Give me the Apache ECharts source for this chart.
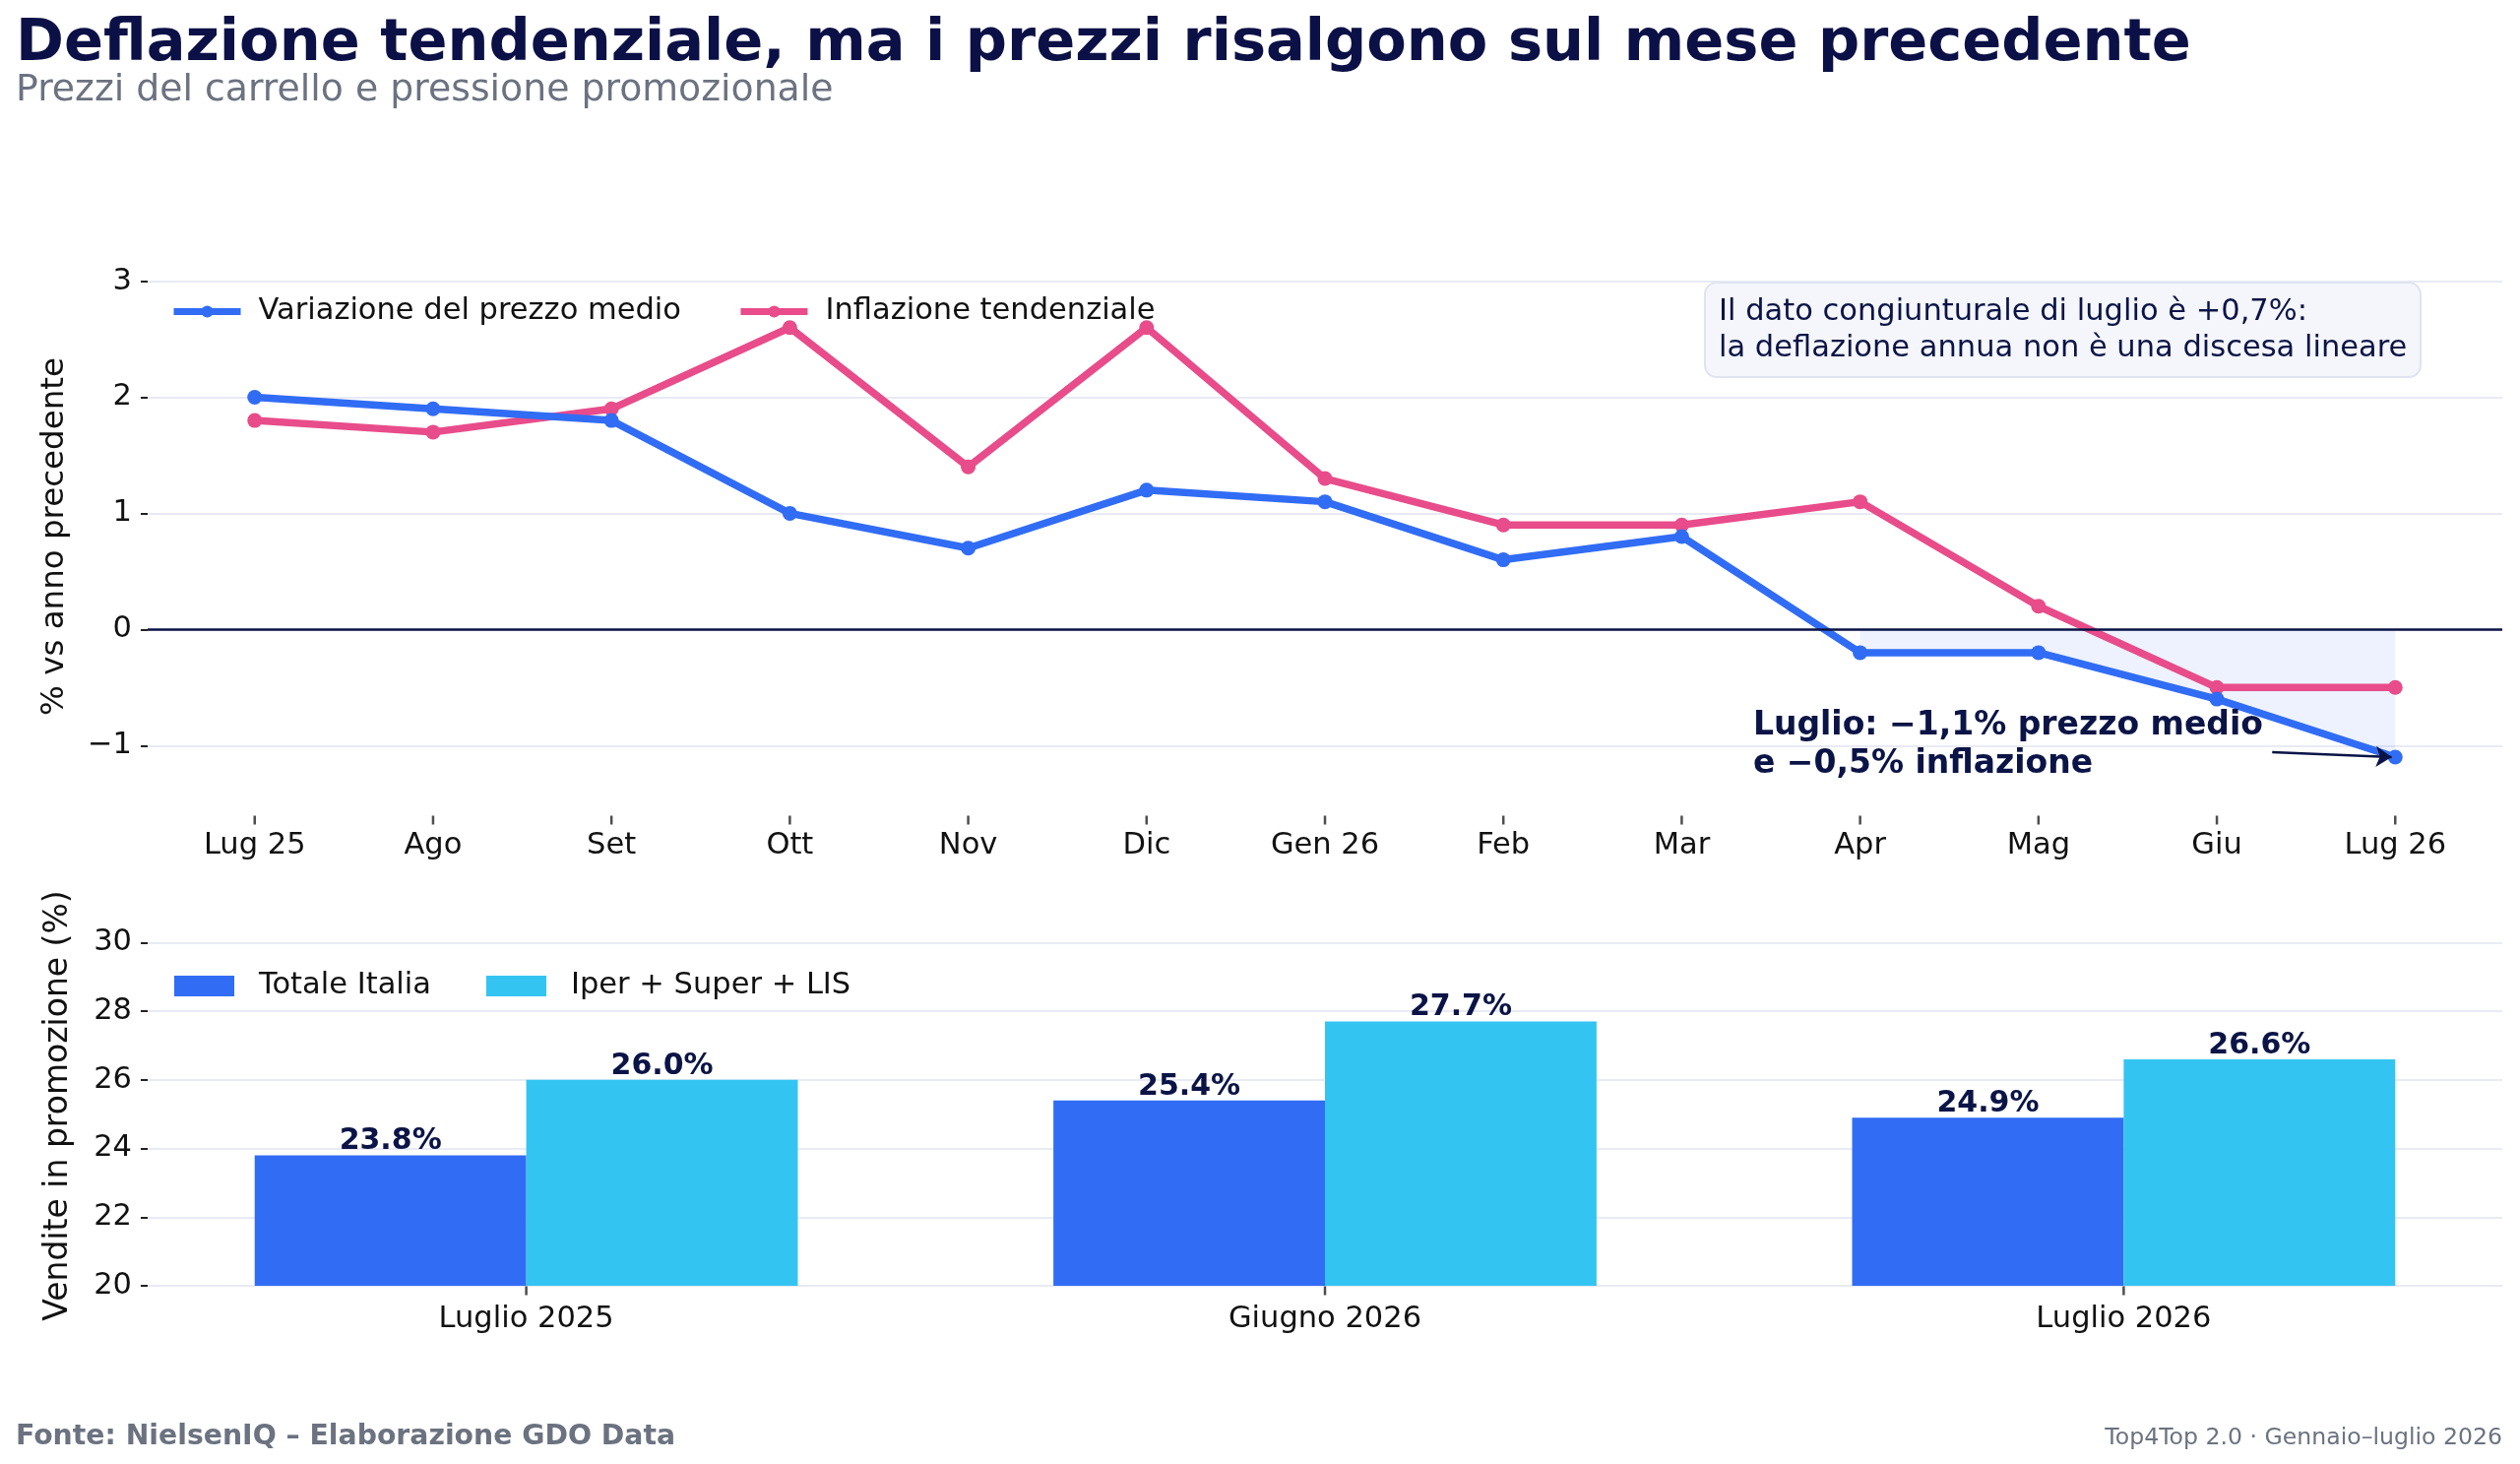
<!DOCTYPE html>
<html>
<head>
<meta charset="utf-8">
<script src="https://cdn.jsdelivr.net/npm/echarts@6/dist/echarts.min.js"></script>
<style>
  html, body { margin: 0; padding: 0; background: #fff; }
  #chart { width: 2560px; height: 1487px; }
</style>
</head>
<body>
<div id="chart"></div>
<script>
// dati del grafico
const mesi = ['Lug 25', 'Ago', 'Set', 'Ott', 'Nov', 'Dic', 'Gen 26', 'Feb', 'Mar', 'Apr', 'Mag', 'Giu', 'Lug 26'];
const prezzoMedio = [2.0, 1.9, 1.8, 1.0, 0.7, 1.2, 1.1, 0.6, 0.8, -0.2, -0.2, -0.6, -1.1];
const inflazione = [1.8, 1.7, 1.9, 2.6, 1.4, 2.6, 1.3, 0.9, 0.9, 1.1, 0.2, -0.5, -0.5];
const tickPrezzi = [-1, 0, 1, 2, 3];
const inizioOmbra = 9; // da Apr in poi

const periodi = ['Luglio 2025', 'Giugno 2026', 'Luglio 2026'];
const totaleItalia = [23.8, 25.4, 24.9];
const iperSuperLis = [26.0, 27.7, 26.6];
const tickPromo = [20, 22, 24, 26, 28, 30];

const NAVY = '#0b1446';
const BLU = '#316cf4';
const ROSA = '#e84c8a';
const CIANO = '#34c4f2';
const GRIGIO = '#6b7280';
const GRID = '#e8ebf4';
const FONT = 'DejaVu Sans';

// limiti degli assi
const yMinPrezzi = -1.6, yMaxPrezzi = 3.2;
const yMinPromo = 20, yMaxPromo = 30.5;

const chart = echarts.init(document.getElementById('chart'));

const idxMesi = mesi.map((m, i) => i);
const idxPeriodi = periodi.map((p, i) => i);

// larghezza barre: 0.34 unità sull'asse x in basso
const grigliaBassoW = 2560 - 150 - 18;
const larghezzaBarra = grigliaBassoW / (2.474 + 0.474) * 0.34;

const etichettaTick = { fontSize: 30.5, color: '#111', fontFamily: FONT };
const stileTick = { color: '#222', width: 2 };

// i tick dell'asse x non vengono disegnati senza linea d'asse: li faccio con uno scatter
function tickX(nome, xi, yi, valori, yBase) {
    return {
        name: nome,
        type: 'scatter',
        xAxisIndex: xi, yAxisIndex: yi,
        data: valori.map(v => [v, yBase]),
        symbol: 'rect', symbolSize: [2.5, 9], symbolOffset: [0, 5],
        itemStyle: { color: '#222' },
        clip: false, silent: true, z: 5
    };
}

chart.setOption({
    animation: false,
    textStyle: { fontFamily: FONT },
    title: [
        {
            text: 'Deflazione tendenziale, ma i prezzi risalgono sul mese precedente',
            left: 16, top: 16, padding: 0,
            textStyle: { fontSize: 59, fontWeight: 'bold', color: '#0b1146', fontFamily: FONT }
        },
        {
            text: 'Prezzi del carrello e pressione promozionale',
            left: 16, top: 73, padding: 0,
            textStyle: { fontSize: 37.8, fontWeight: 'normal', color: GRIGIO, fontFamily: FONT }
        },
        {
            text: 'Il dato congiunturale di luglio è +0,7%:\nla deflazione annua non è una discesa lineare',
            left: 1732, top: 287,
            padding: [12, 14, 10, 14],
            backgroundColor: '#f4f6fb',
            borderColor: '#dfe4f0',
            borderWidth: 2,
            borderRadius: 12,
            textStyle: { fontSize: 30.5, lineHeight: 37, fontWeight: 'normal', color: NAVY, fontFamily: FONT }
        },
        {
            text: 'Fonte: NielsenIQ – Elaborazione GDO Data',
            left: 16, top: 1446, padding: 0,
            textStyle: { fontSize: 28.3, fontWeight: 'bold', color: GRIGIO, fontFamily: FONT }
        },
        {
            text: 'Top4Top 2.0 · Gennaio–luglio 2026',
            right: 18, top: 1449, padding: 0,
            textStyle: { fontSize: 23.6, fontWeight: 'normal', color: GRIGIO, fontFamily: FONT }
        }
    ],
    legend: [
        {
            data: ['Variazione del prezzo medio', 'Inflazione tendenziale'],
            left: 173, top: 301, padding: 0,
            itemWidth: 68, itemHeight: 15, itemGap: 57,
            lineStyle: { width: 7 },
            textStyle: { fontSize: 30.5, color: '#111', padding: [0, 0, 0, 13] }
        },
        {
            data: ['Totale Italia', 'Iper + Super + LIS'],
            left: 177, top: 986, padding: 0,
            icon: 'rect',
            itemWidth: 61, itemHeight: 21, itemGap: 56,
            textStyle: { fontSize: 30.5, color: '#111', padding: [0, 0, 0, 20] }
        }
    ],
    grid: [
        { left: 150, right: 18, top: 262, height: 566 },
        { left: 150, right: 18, top: 940, height: 366 }
    ],
    xAxis: [
        {
            gridIndex: 0, type: 'value', min: -0.6, max: 12.6,
            axisLine: { show: false, onZero: false },
            axisTick: { show: false },
            axisLabel: { customValues: idxMesi, formatter: v => mesi[v], margin: 16, ...etichettaTick },
            splitLine: { show: false }
        },
        {
            gridIndex: 1, type: 'value', min: -0.474, max: 2.474,
            axisLine: { show: false, onZero: false },
            axisTick: { show: false },
            axisLabel: { customValues: idxPeriodi, formatter: v => periodi[v], margin: 19, ...etichettaTick },
            splitLine: { show: false }
        }
    ],
    yAxis: [
        {
            gridIndex: 0, type: 'value', min: yMinPrezzi, max: yMaxPrezzi,
            name: '% vs anno precedente', nameLocation: 'middle', nameGap: 78,
            nameTextStyle: { fontSize: 32.5, color: '#111' },
            axisLine: { show: false, onZero: false },
            axisTick: { show: true, customValues: tickPrezzi, length: 7, lineStyle: stileTick },
            axisLabel: { customValues: tickPrezzi, formatter: v => String(v).replace('-', '−'), margin: 16, ...etichettaTick },
            splitLine: { show: true, lineStyle: { color: GRID, width: 2 } }
        },
        {
            gridIndex: 1, type: 'value', min: yMinPromo, max: yMaxPromo,
            name: 'Vendite in promozione (%)', nameLocation: 'middle', nameGap: 74,
            nameTextStyle: { fontSize: 33, color: '#111' },
            axisLine: { show: false, onZero: false },
            axisTick: { show: true, customValues: tickPromo, length: 7, lineStyle: stileTick },
            axisLabel: { customValues: tickPromo, margin: 16, ...etichettaTick },
            splitLine: { show: true, lineStyle: { color: GRID, width: 2 } }
        }
    ],
    series: [
        {
            name: 'ombra',
            type: 'line',
            xAxisIndex: 0, yAxisIndex: 0,
            data: prezzoMedio.slice(inizioOmbra).map((v, i) => [i + inizioOmbra, v]),
            symbol: 'none',
            lineStyle: { width: 0 },
            areaStyle: { color: 'rgba(49,108,244,0.12)', origin: 'auto' },
            silent: true,
            z: 1
        },
        {
            name: 'Variazione del prezzo medio',
            type: 'line',
            xAxisIndex: 0, yAxisIndex: 0,
            data: prezzoMedio.map((v, i) => [i, v]),
            symbol: 'circle', symbolSize: 15,
            lineStyle: { width: 7.5, color: BLU },
            itemStyle: { color: BLU },
            z: 4,
            markPoint: {
                silent: true,
                symbol: 'circle', symbolSize: 0,
                data: [{ coord: [8.4, -1.0], value: 0 }],
                label: {
                    show: true,
                    position: [0, 0],
                    align: 'left', verticalAlign: 'middle',
                    formatter: 'Luglio: −1,1% prezzo medio\ne −0,5% inflazione',
                    fontSize: 33, lineHeight: 39, fontWeight: 'bold', color: NAVY
                }
            },
            markLine: {
                silent: true,
                symbol: ['none', 'arrow'], symbolSize: 16,
                label: { show: false },
                lineStyle: { color: NAVY, width: 2.5, type: 'solid' },
                data: [[{ coord: [11.31, -1.058] }, { coord: [11.98, -1.1] }]]
            }
        },
        {
            name: 'Inflazione tendenziale',
            type: 'line',
            xAxisIndex: 0, yAxisIndex: 0,
            data: inflazione.map((v, i) => [i, v]),
            symbol: 'circle', symbolSize: 15,
            lineStyle: { width: 7.5, color: ROSA },
            itemStyle: { color: ROSA },
            z: 3,
            markLine: {
                silent: true,
                symbol: 'none',
                label: { show: false },
                lineStyle: { color: NAVY, width: 2.5, type: 'solid' },
                data: [{ yAxis: 0 }]
            }
        },
        {
            name: 'Totale Italia',
            type: 'bar',
            xAxisIndex: 1, yAxisIndex: 1,
            data: totaleItalia.map((v, i) => [i, v]),
            barWidth: larghezzaBarra, barGap: '0%',
            itemStyle: { color: BLU },
            label: {
                show: true, position: 'top', distance: -1,
                formatter: p => p.value[1].toFixed(1) + '%',
                fontSize: 30, fontWeight: 'bold', color: NAVY
            }
        },
        {
            name: 'Iper + Super + LIS',
            type: 'bar',
            xAxisIndex: 1, yAxisIndex: 1,
            data: iperSuperLis.map((v, i) => [i, v]),
            barWidth: larghezzaBarra, barGap: '0%',
            itemStyle: { color: CIANO },
            label: {
                show: true, position: 'top', distance: -1,
                formatter: p => p.value[1].toFixed(1) + '%',
                fontSize: 30, fontWeight: 'bold', color: NAVY
            }
        },
        tickX('tick mesi', 0, 0, idxMesi, yMinPrezzi),
        tickX('tick periodi', 1, 1, idxPeriodi, yMinPromo)
    ]
});
</script>
</body>
</html>
